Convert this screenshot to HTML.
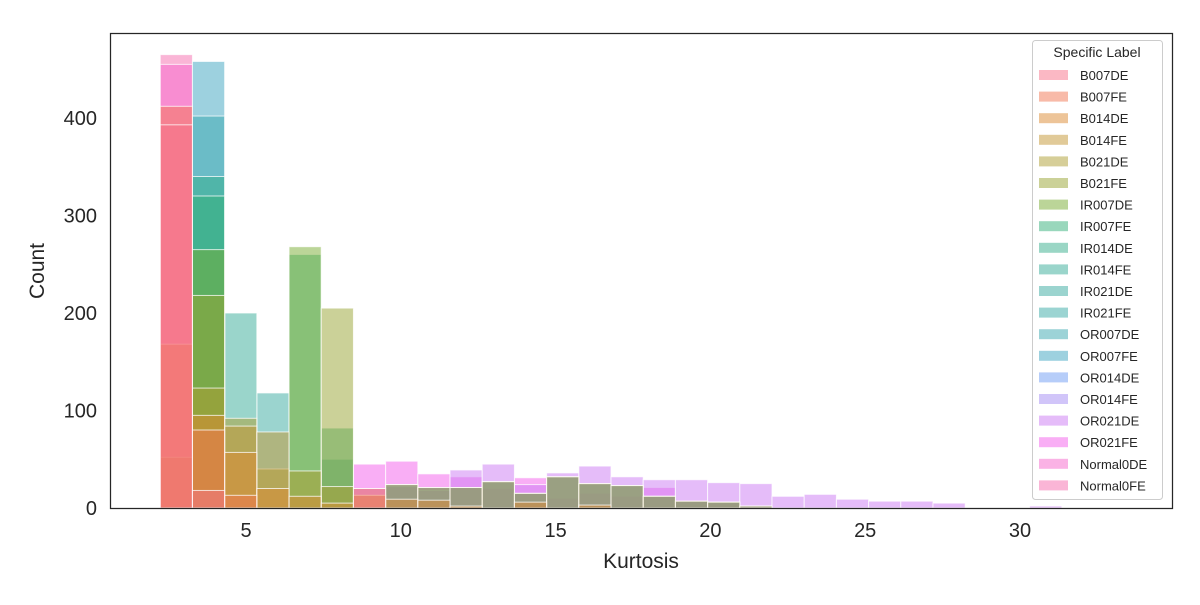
<!DOCTYPE html>
<html><head><meta charset="utf-8"><style>
body{margin:0;background:#fff;font-family:"Liberation Sans",Arial,sans-serif}
svg text{font-family:"Liberation Sans",Arial,sans-serif}
</style></head><body>
<svg id="chart" width="1200" height="600">
<rect x="0" y="0" width="1200" height="600" fill="#fff"/>
<g id="bars"></g>
<rect x="110.5" y="33.5" width="1062" height="475" fill="none" stroke="#262626" stroke-width="1.25"/>
<g id="xticks"></g>
<g id="yticks"></g>
<text x="641" y="568" text-anchor="middle" font-size="21" fill="#262626">Kurtosis</text>
<text transform="translate(44,271) rotate(-90)" text-anchor="middle" font-size="21" fill="#262626">Count</text>
<g id="legend"></g>
</svg>
<script>
const labels=["B007DE","B007FE","B014DE","B014FE","B021DE","B021FE","IR007DE","IR007FE","IR014DE","IR014FE","IR021DE","IR021FE","OR007DE","OR007FE","OR014DE","OR014FE","OR021DE","OR021FE","Normal0DE","Normal0FE"];
const colors=["#f77189","#f27551","#dc8932","#c39532","#ae9d31","#97a431","#77ab31","#33b07a","#35ad8b","#36ac98","#37aaa0","#38a9a5","#39a7b0","#3ba3c0","#6e9bf4","#a48cf4","#cc7af4","#f45deb","#f565cc","#f66bad"];
const binStart=2.23, binWidth=1.04;
const xTicks=[5,10,15,20,25,30];
const yTicks=[0,100,200,300,400];
// counts per bin (28 bins)
const B007DE=[393,18,0,0,0,0];
const B007FE=[412,80,13,0,0,0,20];
const B014DE=[168,95,57,20,12,5,13,9,8,2,0,6,0,3];
const B014FE=[52,0,84,78,0,0,0,24,21,21,27,15,32,25,23,12,7,6,2];
const B021DE=[0,123,92,40,38,22];
const B021FE=[0,218,0,0,0,205];
const IR007DE=[0,265,0,0,268,0];
const IR007FE=[0,320,0,0,260,82];
const IR014DE=[0,340,0,0,0,0];
const IR014FE=[0,0,200,0,0,50];
const IR021DE=[0,0,0,118,0,0];
const IR021FE=[];
const OR007DE=[0,402,0,0,0,0,0,24,21,21,27,15,32,25,23,12,7,6,2];
const OR007FE=[0,458];
const OR014DE=[0,0,0,0,0,0,0,24,21,21,27,15,32,25,23,12,7,6,2];
const OR014FE=[];
const OR021DE=[0,0,0,0,0,0,20,22,18,39,45,24,36,43,32,29,29,26,25,12,14,9,7,7,5,0,0,2];
const OR021FE=[0,0,0,0,0,0,45,48,35,32,20,31,10,15,12,21,8,5,2];
const Normal0DE=[455];
const Normal0FE=[465];
const series=[B007DE,B007FE,B014DE,B014FE,B021DE,B021FE,IR007DE,IR007FE,IR014DE,IR014FE,IR021DE,IR021FE,OR007DE,OR007FE,OR014DE,OR014FE,OR021DE,OR021FE,Normal0DE,Normal0FE];

const X=v=>91.2+v*30.96;
const Y=v=>508-v*0.975;
const NS="http://www.w3.org/2000/svg";
const bars=document.getElementById('bars');
for(let s=series.length-1;s>=0;s--){
  const arr=series[s];
  arr.forEach((c,i)=>{
    if(!c) return;
    const x0=X(binStart+i*binWidth), x1=X(binStart+(i+1)*binWidth);
    const r=document.createElementNS(NS,'rect');
    r.setAttribute('x',x0);r.setAttribute('width',x1-x0);
    r.setAttribute('y',Y(c));r.setAttribute('height',Y(0)-Y(c));
    r.setAttribute('fill',colors[s]);r.setAttribute('fill-opacity','0.5');
    r.setAttribute('stroke','#fff');r.setAttribute('stroke-opacity','0.75');r.setAttribute('stroke-width','1');
    
    
    bars.appendChild(r);
  });
}
const xt=document.getElementById('xticks');
xTicks.forEach(t=>{
  const tx=document.createElementNS(NS,'text');
  tx.setAttribute('x',X(t));tx.setAttribute('y',537);tx.setAttribute('text-anchor','middle');
  tx.setAttribute('font-size','20');tx.setAttribute('fill','#262626');tx.textContent=t;
  
  
  xt.appendChild(tx);
});
const yt=document.getElementById('yticks');
yTicks.forEach(t=>{
  const tx=document.createElementNS(NS,'text');
  tx.setAttribute('x',97);tx.setAttribute('y',Y(t)+7);tx.setAttribute('text-anchor','end');
  tx.setAttribute('font-size','20');tx.setAttribute('fill','#262626');tx.textContent=t;
  
  
  yt.appendChild(tx);
});
const lg=document.getElementById('legend');
const box=document.createElementNS(NS,'rect');
box.setAttribute('x',1032.5);box.setAttribute('y',40.5);box.setAttribute('width',130);box.setAttribute('height',459);
box.setAttribute('rx',3);box.setAttribute('fill','#fff');box.setAttribute('fill-opacity','0.8');box.setAttribute('stroke','#ccc');


lg.appendChild(box);
const title=document.createElementNS(NS,'text');
title.setAttribute('x',1097);title.setAttribute('y',57);title.setAttribute('text-anchor','middle');
title.setAttribute('font-size','14');title.setAttribute('fill','#262626');title.textContent='Specific Label';


lg.appendChild(title);
labels.forEach((l,i)=>{
  const y=75+i*21.6;
  const g=document.createElementNS(NS,'g');
  
  
  const sw=document.createElementNS(NS,'rect');
  sw.setAttribute('x',1039);sw.setAttribute('y',y-5);sw.setAttribute('width',29);sw.setAttribute('height',10);
  sw.setAttribute('fill',colors[i]);sw.setAttribute('fill-opacity','0.5');
  g.appendChild(sw);
  const tx=document.createElementNS(NS,'text');
  tx.setAttribute('x',1080);tx.setAttribute('y',y+5);tx.setAttribute('font-size','13');tx.setAttribute('fill','#262626');
  tx.textContent=l;g.appendChild(tx);
  lg.appendChild(g);
});
</script>
</body></html>
